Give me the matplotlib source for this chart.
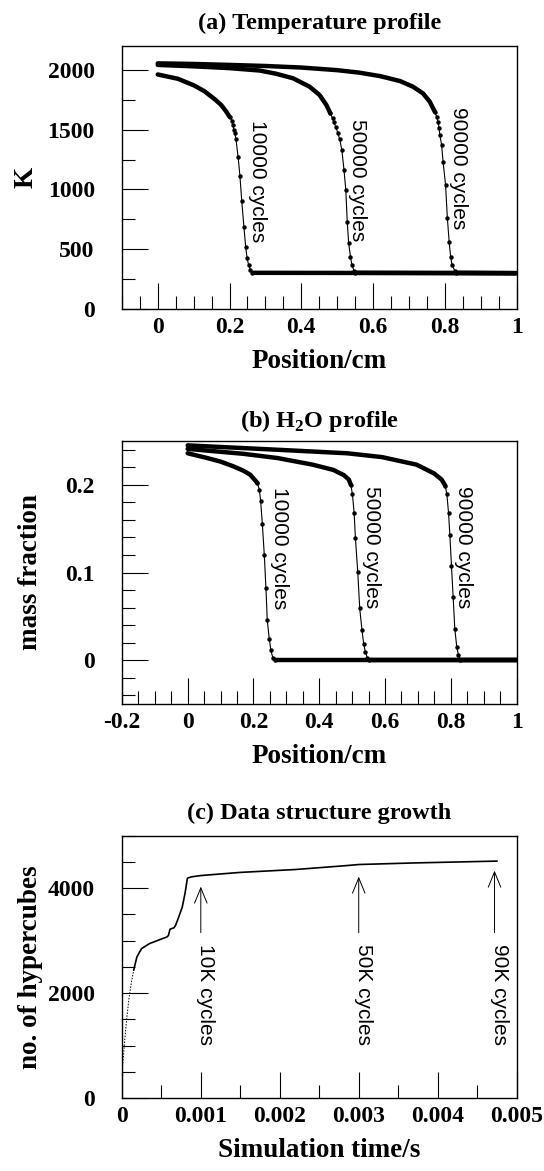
# Flame front profiles and hypercube growth, three stacked panels
import matplotlib
matplotlib.use("Agg")
import matplotlib.pyplot as plt
from matplotlib import font_manager
from matplotlib.ticker import MultipleLocator

# ---- (a) temperature, K -------------------------------------------------
T10_x_upper = [0, 0.056, 0.10, 0.13, 0.16, 0.177, 0.19]
T10_upper = [1962, 1926, 1872, 1822, 1752, 1706, 1655]
T10_x_front = [0.200, 0.2065, 0.209, 0.212, 0.215, 0.218, 0.224, 0.229,
               0.234, 0.240, 0.245, 0.249, 0.253, 0.258, 0.263]
T10_front = [1609, 1575, 1539, 1497, 1470, 1419, 1270, 1113,
             905, 690, 520, 425, 370, 330, 303]

T50_x_upper = [0, 0.10, 0.20, 0.284, 0.33, 0.377, 0.423, 0.451, 0.47]
T50_upper = [2042, 2030, 2015, 1995, 1968, 1930, 1860, 1790, 1706]
T50_x_front = [0.481, 0.487, 0.490, 0.496, 0.502, 0.507, 0.513, 0.519,
               0.524, 0.528, 0.532, 0.537, 0.541, 0.547, 0.551]
T50_front = [1637, 1595, 1567, 1525, 1470, 1420, 1330, 1163,
             995, 730, 549, 438, 368, 320, 303]

T90_x_upper = [0, 0.10, 0.20, 0.30, 0.40, 0.50, 0.56, 0.62, 0.675, 0.711,
               0.739, 0.758]
T90_upper = [2055, 2050, 2042, 2033, 2020, 1998, 1978, 1948, 1907, 1860,
             1804, 1734]
T90_x_front = [0.772, 0.777, 0.781, 0.784, 0.786, 0.791, 0.795, 0.802,
               0.807, 0.812, 0.816, 0.820, 0.828, 0.832]
T90_front = [1650, 1609, 1567, 1511, 1455, 1372, 1232, 1037,
             759, 563, 438, 368, 320, 303]

T_cold = 300

# ---- (b) H2O mass fraction ----------------------------------------------
W10_x_upper = [0, 0.058, 0.10, 0.139, 0.17, 0.19, 0.208]
W10_upper = [0.236, 0.2307, 0.2265, 0.2211, 0.216, 0.2116, 0.2039]
W10_x_front = [0.212, 0.218, 0.222, 0.227, 0.233, 0.238, 0.242, 0.248,
               0.253, 0.259, 0.265]
W10_front = [0.2021, 0.1944, 0.181, 0.1554, 0.1199, 0.0818, 0.0455, 0.0245,
             0.0111, 0.0027, 0.0]

W50_x_upper = [0, 0.169, 0.274, 0.38, 0.443, 0.475, 0.49]
W50_upper = [0.241, 0.2354, 0.2305, 0.223, 0.217, 0.211, 0.206]
W50_x_front = [0.496, 0.501, 0.506, 0.510, 0.517, 0.523, 0.530, 0.535,
               0.540, 0.546, 0.551]
W50_front = [0.200, 0.189, 0.168, 0.139, 0.101, 0.059, 0.034, 0.019,
             0.0095, 0.003, 0.0]

W90_x_upper = [0, 0.274, 0.485, 0.591, 0.696, 0.749, 0.772]
W90_upper = [0.245, 0.240, 0.236, 0.2316, 0.223, 0.213, 0.206]
W90_x_front = [0.783, 0.788, 0.793, 0.797, 0.802, 0.807, 0.812, 0.818,
               0.823, 0.829]
W90_front = [0.199, 0.189, 0.168, 0.143, 0.107, 0.072, 0.036, 0.015,
             0.006, 0.0]

W_cold = 0.0

cycle_labels = ["10000 cycles", "50000 cycles", "90000 cycles"]
T_label_x = [0.277, 0.556, 0.837]
T_label_top = [1580, 1593, 1690]
W_label_x = [0.280, 0.559, 0.839]
W_label_top = [0.198, 0.199, 0.199]

# ---- (c) data structure growth ------------------------------------------
rise_t = [0, 0.00001, 0.00003, 0.00006, 0.00009, 0.00012, 0.00015]
rise_n = [0, 600, 1000, 1490, 1900, 2200, 2440]
growth_t = [0.00015, 0.00019, 0.00025, 0.00035, 0.00048, 0.00057, 0.00059,
            0.00061, 0.00066, 0.00068, 0.00072, 0.000765, 0.0008, 0.00083,
            0.00088, 0.001, 0.0015, 0.0022, 0.00285, 0.003, 0.0037, 0.00475]
growth_n = [2440, 2690, 2850, 2945, 3020, 3070, 3100, 3220, 3245, 3290,
            3450, 3640, 3900, 4190, 4215, 4240, 4300, 4355, 4430, 4450,
            4480, 4515]

mark_t = [0.001, 0.003, 0.00472]
mark_tip = [4083, 4273, 4387]
mark_tail = 3100
mark_labels = ["10K cycles", "50K cycles", "90K cycles"]
mark_label_top = 2943

# ---- fonts ----------------------------------------------------------------
plt.rcParams["font.family"] = ["Liberation Serif", "DejaVu Serif"]
plt.rcParams["font.weight"] = "bold"
plt.rcParams["axes.labelweight"] = "bold"
plt.rcParams["axes.titleweight"] = "bold"
plt.rcParams["mathtext.fontset"] = "custom"
plt.rcParams["mathtext.rm"] = "Liberation Serif:bold"
plt.rcParams["mathtext.bf"] = "Liberation Serif:bold"
plt.rcParams["axes.linewidth"] = 1.0

try:
    font_manager.findfont("Liberation Sans Narrow", fallback_to_default=False)
    note_font, note_size = "Liberation Sans Narrow", 18
except ValueError:
    note_font, note_size = "Liberation Sans", 15

TICK = 17
LABEL = 19.5
TITLE = 17.5


def style_axes(ax, xlim, ylim, xticks, xticklabels, yticks, yticklabels,
               xminor, yminor):
    ax.set_xlim(xlim)
    ax.set_ylim(ylim)
    ax.set_xticks(xticks)
    ax.set_xticklabels(xticklabels)
    ax.set_yticks(yticks)
    ax.set_yticklabels(yticklabels)
    ax.xaxis.set_minor_locator(MultipleLocator(xminor))
    ax.yaxis.set_minor_locator(MultipleLocator(yminor))
    ax.tick_params(which="both", direction="in", top=False, right=False,
                   width=0.8, labelsize=TICK)
    ax.tick_params(which="major", length=18.5)
    ax.tick_params(which="minor", length=9.5)
    ax.tick_params(axis="y", pad=19.5)
    ax.tick_params(axis="x", pad=5.5)


def draw_profile(ax, xu, yu, xf, yf, base):
    xs = list(xu) + list(xf) + [1.0]
    ys = list(yu) + list(yf) + [base]
    ax.plot(xs, ys, color="k", lw=0.8)
    ax.plot(xf, yf, "o", color="k", ms=3.2, mew=0)
    ax.plot(list(xu) + [xf[0]], list(yu) + [yf[0]], color="k", lw=3.2,
            solid_capstyle="round")
    ax.plot([xf[-1], 1.0], [yf[-1], base], color="k", lw=3.2,
            solid_capstyle="butt")


fig = plt.figure(figsize=(5.44, 11.71), dpi=100)
ax_a = fig.add_axes([0.224, 0.7361, 0.7257, 0.2246])
ax_b = fig.add_axes([0.224, 0.3988, 0.7257, 0.2246])
ax_c = fig.add_axes([0.224, 0.0621, 0.7257, 0.2243])

# (a)
draw_profile(ax_a, T10_x_upper, T10_upper, T10_x_front, T10_front, T_cold)
draw_profile(ax_a, T50_x_upper, T50_upper, T50_x_front, T50_front, T_cold)
draw_profile(ax_a, T90_x_upper, T90_upper, T90_x_front, T90_front, T_cold)
for lab, x, y in zip(cycle_labels, T_label_x, T_label_top):
    ax_a.text(x, y, lab, rotation=270, ha="center", va="top",
              family=note_font, weight="normal", fontsize=note_size)
style_axes(ax_a, (-0.1, 1.0), (0, 2200),
           [0, 0.2, 0.4, 0.6, 0.8, 1.0], ["0", "0.2", "0.4", "0.6", "0.8", "1"],
           [0, 500, 1000, 1500, 2000], ["0", "500", "1000", "1500", "2000"],
           0.05, 250)
ax_a.set_title("(a) Temperature profile", fontsize=TITLE, pad=12)
ax_a.set_xlabel("Position/cm", fontsize=LABEL, labelpad=8)
ax_a.set_ylabel("K", fontsize=LABEL)
ax_a.yaxis.set_label_coords(-0.21, 0.5)

# (b)
draw_profile(ax_b, W10_x_upper, W10_upper, W10_x_front, W10_front, W_cold)
draw_profile(ax_b, W50_x_upper, W50_upper, W50_x_front, W50_front, W_cold)
draw_profile(ax_b, W90_x_upper, W90_upper, W90_x_front, W90_front, W_cold)
for lab, x, y in zip(cycle_labels, W_label_x, W_label_top):
    ax_b.text(x, y, lab, rotation=270, ha="center", va="top",
              family=note_font, weight="normal", fontsize=note_size)
style_axes(ax_b, (-0.2, 1.0), (-0.05, 0.25),
           [-0.2, 0, 0.2, 0.4, 0.6, 0.8, 1.0],
           ["-0.2", "0", "0.2", "0.4", "0.6", "0.8", "1"],
           [0, 0.1, 0.2], ["0", "0.1", "0.2"],
           0.05, 0.02)
ax_b.set_title(r"(b) H$_{\mathbf{2}}$O profile", fontsize=TITLE, pad=10.3)
ax_b.set_xlabel("Position/cm", fontsize=LABEL, labelpad=8)
ax_b.set_ylabel("mass fraction", fontsize=LABEL)
ax_b.yaxis.set_label_coords(-0.2, 0.5)

# (c)
ax_c.plot(rise_t, rise_n, color="k", lw=0.7, ls=(0, (1.5, 1.5)))
ax_c.plot(growth_t, growth_n, color="k", lw=1.2)
for t, tip, lab in zip(mark_t, mark_tip, mark_labels):
    ax_c.annotate("", xy=(t, tip), xytext=(t, mark_tail),
                  arrowprops=dict(arrowstyle="->,head_length=1.1,head_width=0.45",
                                  color="k", lw=0.7))
    ax_c.text(t + 0.00006, mark_label_top, lab, rotation=270, ha="center",
              va="top", family=note_font, weight="normal", fontsize=note_size)
style_axes(ax_c, (0, 0.005), (0, 5000),
           [0, 0.001, 0.002, 0.003, 0.004, 0.005],
           ["0", "0.001", "0.002", "0.003", "0.004", "0.005"],
           [0, 2000, 4000], ["0", "2000", "4000"],
           0.0005, 500)
ax_c.set_title("(c) Data structure growth", fontsize=TITLE, pad=12)
ax_c.set_xlabel("Simulation time/s", fontsize=LABEL, labelpad=8)
ax_c.set_ylabel("no. of hypercubes", fontsize=LABEL)
ax_c.yaxis.set_label_coords(-0.2, 0.5)

fig.savefig("out.png", dpi=100)
